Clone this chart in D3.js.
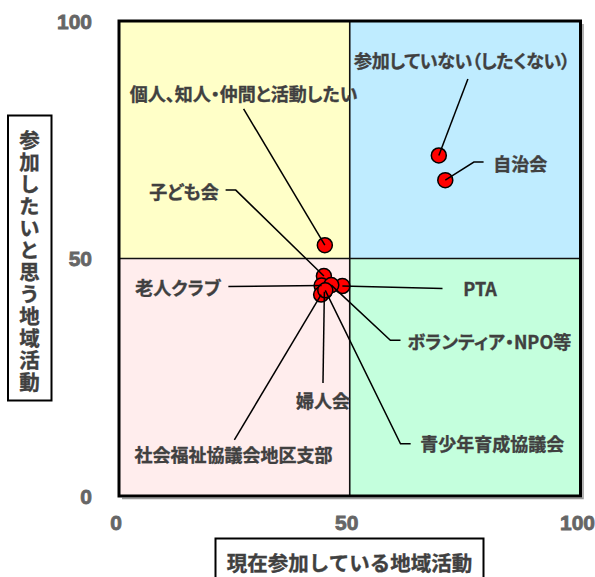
<!DOCTYPE html>
<html><head><meta charset="utf-8">
<script src="https://cdn.jsdelivr.net/npm/d3@7/dist/d3.min.js"></script>
<style>
body{margin:0;background:#fff;}
svg{display:block;}
.lbl{font-family:"Noto Sans CJK JP",sans-serif;font-weight:bold;font-size:18px;fill:#404040;stroke:#404040;stroke-width:0.35px;font-feature-settings:"palt";}
.tick{font-family:"Liberation Sans",Arial,sans-serif;font-weight:700;font-size:21px;fill:#666;stroke:#666;stroke-width:0.8px;}
.ttl{font-family:"Noto Sans CJK JP",sans-serif;font-weight:bold;font-size:20.5px;fill:#404040;stroke:#404040;stroke-width:0.35px;}
</style>
</head><body>
<svg id="c" width="595" height="577"></svg>
<script>
// ---- data ----
const names = ["個人、知人・仲間と活動したい","参加していない（したくない）","自治会","子ども会","老人クラブ","PTA","ボランティア・NPO等","婦人会","社会福祉協議会地区支部","青少年育成協議会"];
const currentVals = [44.6, 69.3, 70.7, 44.4, 43.9, 48.4, 46.0, 44.5, 43.8, 44.7];
const wantVals    = [52.8, 71.7, 66.5, 46.3, 44.3, 44.2, 44.4, 43.0, 42.4, 43.3];
const ticks = [0, 50, 100];
const xTitle = "現在参加している地域活動";
const yTitle = "参加したいと思う地域活動";
// label anchor (data units) and anchor mode
const labelX = [27.0, 74.3, 81.1, 21.6, 22.0, 74.6, 62.5, 44.2, 24.8, 65.3];
const labelY = [84.8, 91.7, 70.1, 64.3, 44.0, 43.7, 32.6, 20.2, 8.8, 11.1];
const labelAnchor = ["middle","middle","start","end","end","start","start","middle","middle","start"];
// leader start (data units) and optional elbow
const leadX = [27.0, 75.6, 79.0, 23.1, 23.7, 70.1, 61.0, 44.2, 25.0, 63.2];
const leadY = [81.5, 87.8, 70.3, 64.4, 44.1, 43.7, 32.8, 23.8, 11.8, 11.0];
const elbowX = [null, null, 76.9, 25.3, null, null, 58.8, null, null, 61.0];

// ---- layout ----
const svg = d3.select("#c");
const L = 119, R = 580.5, T = 21, B = 496;
const x = d3.scaleLinear().domain([0,100]).range([L,R]);
const y = d3.scaleLinear().domain([0,100]).range([B,T]);

const quads = [
  {x0:0,x1:50,y0:50,y1:100,c:"#FFFFC8"},
  {x0:50,x1:100,y0:50,y1:100,c:"#BFECFF"},
  {x0:0,x1:50,y0:0,y1:50,c:"#FFEDED"},
  {x0:50,x1:100,y0:0,y1:50,c:"#C4FFDD"}
];
svg.selectAll("rect.q").data(quads).join("rect")
  .attr("x",d=>x(d.x0)).attr("y",d=>y(d.y1))
  .attr("width",d=>x(d.x1)-x(d.x0)).attr("height",d=>y(d.y0)-y(d.y1))
  .attr("fill",d=>d.c);

// quadrant dividers
svg.append("line").attr("x1",x(50)).attr("x2",x(50)).attr("y1",y(100)).attr("y2",y(0))
  .attr("stroke","#111").attr("stroke-width",1.6);
svg.append("line").attr("x1",x(0)).attr("x2",x(100)).attr("y1",y(50)).attr("y2",y(50))
  .attr("stroke","#111").attr("stroke-width",1.6);

// shadow + border
svg.append("path").attr("d",`M${R+2.5},${T+3}V${B+2.5}H${L+3}`).attr("fill","none")
  .attr("stroke","#999").attr("stroke-width",1.5);
svg.append("rect").attr("x",L).attr("y",T).attr("width",R-L).attr("height",B-T)
  .attr("fill","none").attr("stroke","#000").attr("stroke-width",3);

// tick labels
svg.selectAll("text.yt").data(ticks).join("text").attr("class","tick")
  .attr("x",92).attr("y",d=>y(d)).attr("text-anchor","end").attr("dominant-baseline","central")
  .text(d=>d);
svg.selectAll("text.xt").data(ticks).join("text").attr("class","tick")
  .attr("x",d=>x(d)-3).attr("y",522.5).attr("text-anchor","middle").attr("dominant-baseline","central")
  .text(d=>d);

// points
const pts = names.map((n,i)=>({n, cx:currentVals[i], cy:wantVals[i], i}));
svg.selectAll("circle.p").data(pts).join("circle")
  .attr("cx",d=>x(d.cx)).attr("cy",d=>y(d.cy)).attr("r",7.5)
  .attr("fill","#FF0000").attr("stroke","#000").attr("stroke-width",1.5);

// leader lines
svg.selectAll("path.ld").data(pts).join("path")
  .attr("d",d=>{
    const i=d.i;
    let p = `M${x(leadX[i])},${y(leadY[i])}`;
    if(elbowX[i]!==null) p += `H${x(elbowX[i])}`;
    p += `L${x(d.cx)},${y(d.cy)}`;
    return p;
  })
  .attr("fill","none").attr("stroke","#000").attr("stroke-width",1.5);

// labels
svg.selectAll("text.lb").data(pts).join("text").attr("class","lbl")
  .attr("x",d=>x(labelX[d.i])).attr("y",d=>y(labelY[d.i]))
  .attr("text-anchor",d=>labelAnchor[d.i]).attr("dominant-baseline","central")
  .style("letter-spacing",d=>d.i===1?"-0.3px":null)
  .text(d=>d.n);

// axis title boxes
svg.append("rect").attr("x",8).attr("y",115.5).attr("width",43.5).attr("height",285)
  .attr("fill","#fff").attr("stroke","#000").attr("stroke-width",2);
svg.append("text").attr("class","ttl")
  .attr("x",29.5).attr("y",261.5)
  .attr("text-anchor","middle")
  .style("writing-mode","vertical-rl").style("text-orientation","upright")
  .style("letter-spacing","1.5px")
  .text(yTitle);
svg.append("rect").attr("x",215.5).attr("y",538.5).attr("width",268).attr("height",45)
  .attr("fill","#fff").attr("stroke","#000").attr("stroke-width",2);
svg.append("text").attr("class","ttl")
  .attr("x",349.5).attr("y",562).attr("text-anchor","middle").attr("dominant-baseline","central")
  .text(xTitle);
</script>
</body></html>
